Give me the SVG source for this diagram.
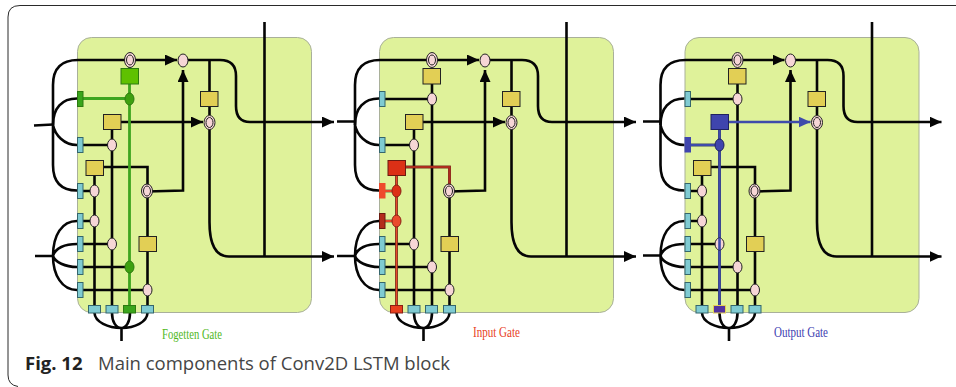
<svg xmlns="http://www.w3.org/2000/svg" width="956" height="387" viewBox="0 0 956 387">
<style>
.bg{fill:#dff29a;stroke:#a9b09a;stroke-width:1}
.w,.g,.r,.rd,.b{fill:none;stroke-width:2.6}
.w{stroke:#050505}
.g{stroke:#3ea51f;stroke-width:2.8}
.r{stroke:#e8492a;stroke-width:2}
.rd{stroke:#ad2c1e}
.b{stroke:#3f4bab}
.y{fill:#e2cf55;stroke:#222;stroke-width:1}
.c{fill:#7fcbd2;stroke:#35666c;stroke-width:1}
.p{fill:#f6d6d6;stroke:#222;stroke-width:1}
.lbl{font-family:"Liberation Serif",serif;font-size:15px}
.cap{font-family:"Open Sans",sans-serif;font-size:18.500px;fill:#454545}
</style>
<defs>
<marker id="ak" markerUnits="userSpaceOnUse" markerWidth="12" markerHeight="11" viewBox="0 0 12 11" refX="12" refY="5.500" orient="auto"><path d="M0 0L12 5.500L0 11z" fill="#050505"/></marker>
<marker id="ab" markerUnits="userSpaceOnUse" markerWidth="12" markerHeight="11" viewBox="0 0 12 11" refX="12" refY="5.500" orient="auto"><path d="M0 0L12 5.500L0 11z" fill="#3f4bab"/></marker>
<g id="wires">
<path class="w" d="M53 125V85Q53 60 78 60H177" marker-end="url(#ak)"/>
<path class="w" d="M183 60H220Q236 60 236 76V106Q236 122 250 122H334" marker-end="url(#ak)"/>
<path class="w" d="M209.500 129V222Q209.500 256.500 229 256.500H334" marker-end="url(#ak)"/>
<path class="w" d="M147 191.500L183 190.500V70" marker-end="url(#ak)"/>
<path class="w" d="M209.500 60V115M264.500 22V256M53 125C53 108 62 98.500 77 98.500M53 125C55 135 64 145 77 145M53 125V165Q53 190.500 77 190.500M80 145H112M80 191H95M80 221H95M80 244H112M80 267H130M80 290H147M94.500 175V305M112 129V305M147.500 197V305M103 167H147.500V185M53 256C53 235 62 221 77 221M53 256C55 248 65 244 77 244M53 256C55 262 65 267 77 267M53 256C53 275 62 290 77 290M94.500 313C95 322 108 328 121.500 328C135 328 147 322 147.500 313M112 313C112 322 116 328 121.500 328C126 328 130 322 130 313M121.500 328V341"/>
</g>
</defs>

<path d="M18 386.500Q8 385 8 375V17Q8 5.500 20 5.500H956" fill="none" stroke="#2a2a2a" stroke-width="1"/>
<rect class="bg" x="77.500" y="37.500" width="234" height="275" rx="14"/>
<rect class="bg" x="379.500" y="37.500" width="234" height="275" rx="14"/>
<rect class="bg" x="685" y="37.500" width="234" height="275" rx="14"/>

<g id="connectors">
<g id="p1-wires">
<use href="#wires"/>
<path class="w" d="M34 125.500L53 124.500M35 256H53"/>
<path class="w" d="M121 122H203" marker-end="url(#ak)"/>
<path class="g" d="M80 98.500H130M129.500 66V305"/>
</g>
<g id="p2-wires" transform="translate(302 0)">
<use href="#wires"/>
<path class="w" d="M35 121.500H53M35 256H53M80 99H130M130 84V305"/>
<path class="w" d="M121 122H203" marker-end="url(#ak)"/>
<path class="rd" d="M103 167H147.500V185"/>
<path class="r" d="M94.500 175V305M80 191H95M80 221H95"/>
</g>
<g id="p3-wires" transform="translate(607.500 0)">
<use href="#wires"/>
<path class="w" d="M35.500 121.500H53M35.500 255.500H53M80 99H130M130 84V305"/>
<path class="b" d="M121 122H203" marker-end="url(#ab)"/>
<path class="b" d="M80 145H112M112 129V305"/>
</g>
</g>

<g id="panel1-nodes">
<g id="p1-top"><ellipse class="p" cx="130" cy="60" rx="5.500" ry="7.500"/><ellipse class="p" cx="130" cy="60" rx="3.500" ry="5"/></g>
<g id="p1-sum"><ellipse class="p" cx="183" cy="60.500" rx="5" ry="6.500"/></g>
<g id="p1-right"><ellipse class="p" cx="209.500" cy="122.500" rx="5.500" ry="7"/><ellipse class="p" cx="209.500" cy="122.500" rx="3.500" ry="5"/></g>
<g id="p1-mid"><ellipse class="p" cx="147" cy="191" rx="5.500" ry="7"/><ellipse class="p" cx="147" cy="191" rx="3.500" ry="5"/></g>
<g id="p1-y1"><rect x="121" y="68.500" width="17.500" height="15.500" fill="#5fc100" stroke="#2d7a10"/></g>
<g id="p1-y2"><rect class="y" x="200.500" y="91.500" width="17.500" height="15"/></g>
<g id="p1-y3"><rect class="y" x="103.500" y="114.500" width="17.500" height="15"/></g>
<g id="p1-y4"><rect class="y" x="86" y="160.500" width="17.500" height="15"/></g>
<g id="p1-y5"><rect class="y" x="139" y="236.500" width="17.500" height="15"/></g>
<g id="p1-l1"><rect x="77.500" y="91.500" width="5.500" height="15" fill="#3aa51c" stroke="#2d7a10"/></g>
<g id="p1-l2"><rect class="c" x="77.500" y="137.500" width="5.500" height="15"/></g>
<g id="p1-l3"><rect class="c" x="77.500" y="183.500" width="5.500" height="15"/></g>
<g id="p1-l4"><rect class="c" x="77.500" y="213.500" width="5.500" height="15"/></g>
<g id="p1-l5"><rect class="c" x="77.500" y="236.500" width="5.500" height="15"/></g>
<g id="p1-l6"><rect class="c" x="77.500" y="259.500" width="5.500" height="15"/></g>
<g id="p1-l7"><rect class="c" x="77.500" y="282.500" width="5.500" height="15"/></g>
<g id="p1-n1"><ellipse cx="129.500" cy="99" rx="4.500" ry="6" fill="#3ea010" stroke="#2d7a10"/></g>
<g id="p1-n2"><ellipse class="p" cx="112" cy="145" rx="4.500" ry="6"/></g>
<g id="p1-n3"><ellipse class="p" cx="94.500" cy="191" rx="4.500" ry="6"/></g>
<g id="p1-n4"><ellipse class="p" cx="94.500" cy="221" rx="4.500" ry="6"/></g>
<g id="p1-n5"><ellipse class="p" cx="112" cy="244" rx="4.500" ry="6"/></g>
<g id="p1-n6"><ellipse cx="129.500" cy="267" rx="4.500" ry="6" fill="#3ea010" stroke="#2d7a10"/></g>
<g id="p1-n7"><ellipse class="p" cx="147.500" cy="290" rx="4.500" ry="6"/></g>
<g id="p1-b1"><rect class="c" x="88.500" y="305.500" width="12" height="7.500"/></g>
<g id="p1-b2"><rect class="c" x="106" y="305.500" width="12" height="7.500"/></g>
<g id="p1-b3"><rect x="123.500" y="305.500" width="12" height="7.500" fill="#3aa51c" stroke="#2d7a10"/></g>
<g id="p1-b4"><rect class="c" x="141.500" y="305.500" width="12" height="7.500"/></g>
</g>

<g id="panel2-nodes" transform="translate(302 0)">
<g id="p2-top"><ellipse class="p" cx="130" cy="60" rx="5.500" ry="7.500"/><ellipse class="p" cx="130" cy="60" rx="3.500" ry="5"/></g>
<g id="p2-sum"><ellipse class="p" cx="183" cy="60.500" rx="5" ry="6.500"/></g>
<g id="p2-right"><ellipse class="p" cx="209.500" cy="122.500" rx="5.500" ry="7"/><ellipse class="p" cx="209.500" cy="122.500" rx="3.500" ry="5"/></g>
<g id="p2-mid"><ellipse class="p" cx="147" cy="191" rx="5.500" ry="7"/><ellipse class="p" cx="147" cy="191" rx="3.500" ry="5"/></g>
<g id="p2-y1"><rect class="y" x="121" y="68.500" width="17.500" height="15.500"/></g>
<g id="p2-y2"><rect class="y" x="200.500" y="91.500" width="17.500" height="15"/></g>
<g id="p2-y3"><rect class="y" x="103.500" y="114.500" width="17.500" height="15"/></g>
<g id="p2-y4"><rect x="86" y="160.500" width="17.500" height="15" fill="#dc3016" stroke="#6b1a10"/></g>
<g id="p2-y5"><rect class="y" x="139" y="236.500" width="17.500" height="15"/></g>
<g id="p2-l1"><rect class="c" x="77.500" y="91.500" width="5.500" height="15"/></g>
<g id="p2-l2"><rect class="c" x="77.500" y="137.500" width="5.500" height="15"/></g>
<g id="p2-l3"><rect x="77" y="183" width="6.500" height="15.500" fill="#ee4a2c"/></g>
<g id="p2-l4"><rect x="77.500" y="213.500" width="5.500" height="15" fill="#b32c1c" stroke="#6b1a10"/></g>
<g id="p2-l5"><rect class="c" x="77.500" y="236.500" width="5.500" height="15"/></g>
<g id="p2-l6"><rect class="c" x="77.500" y="259.500" width="5.500" height="15"/></g>
<g id="p2-l7"><rect class="c" x="77.500" y="282.500" width="5.500" height="15"/></g>
<g id="p2-n1"><ellipse class="p" cx="130" cy="99" rx="4.500" ry="6"/></g>
<g id="p2-n2"><ellipse class="p" cx="112" cy="145" rx="4.500" ry="6"/></g>
<g id="p2-n3"><ellipse cx="94.500" cy="191" rx="4.500" ry="6" fill="#dc3016" stroke="#8a2014"/></g>
<g id="p2-n4"><ellipse cx="94.500" cy="221" rx="4.500" ry="6" fill="#ea4a2c" stroke="#8a2014"/></g>
<g id="p2-n5"><ellipse class="p" cx="112" cy="244" rx="4.500" ry="6"/></g>
<g id="p2-n6"><ellipse class="p" cx="130" cy="267" rx="4.500" ry="6"/></g>
<g id="p2-n7"><ellipse class="p" cx="147.500" cy="290" rx="4.500" ry="6"/></g>
<g id="p2-b1"><rect x="88.500" y="305.500" width="12" height="7.500" fill="#e8401e" stroke="#8a2014"/></g>
<g id="p2-b2"><rect class="c" x="106" y="305.500" width="12" height="7.500"/></g>
<g id="p2-b3"><rect class="c" x="123.500" y="305.500" width="12" height="7.500"/></g>
<g id="p2-b4"><rect class="c" x="141.500" y="305.500" width="12" height="7.500"/></g>
</g>

<g id="panel3-nodes" transform="translate(607.500 0)">
<g id="p3-top"><ellipse class="p" cx="130" cy="60" rx="5.500" ry="7.500"/><ellipse class="p" cx="130" cy="60" rx="3.500" ry="5"/></g>
<g id="p3-sum"><ellipse class="p" cx="183" cy="60.500" rx="5" ry="6.500"/></g>
<g id="p3-right"><ellipse class="p" cx="209.500" cy="122.500" rx="5.500" ry="7"/><ellipse class="p" cx="209.500" cy="122.500" rx="3.500" ry="5"/></g>
<g id="p3-mid"><ellipse class="p" cx="147" cy="191" rx="5.500" ry="7"/><ellipse class="p" cx="147" cy="191" rx="3.500" ry="5"/></g>
<g id="p3-y1"><rect class="y" x="121" y="68.500" width="17.500" height="15.500"/></g>
<g id="p3-y2"><rect class="y" x="200.500" y="91.500" width="17.500" height="15"/></g>
<g id="p3-y3"><rect x="103.500" y="114.500" width="17.500" height="15" fill="#3f45ad" stroke="#1f2260"/></g>
<g id="p3-y4"><rect class="y" x="86" y="160.500" width="17.500" height="15"/></g>
<g id="p3-y5"><rect class="y" x="139" y="236.500" width="17.500" height="15"/></g>
<g id="p3-l1"><rect class="c" x="77.500" y="91.500" width="5.500" height="15"/></g>
<g id="p3-l2"><rect x="77" y="137" width="6.500" height="15.500" fill="#3f45ad"/></g>
<g id="p3-l3"><rect class="c" x="77.500" y="183.500" width="5.500" height="15"/></g>
<g id="p3-l4"><rect class="c" x="77.500" y="213.500" width="5.500" height="15"/></g>
<g id="p3-l5"><rect class="c" x="77.500" y="236.500" width="5.500" height="15"/></g>
<g id="p3-l6"><rect class="c" x="77.500" y="259.500" width="5.500" height="15"/></g>
<g id="p3-l7"><rect class="c" x="77.500" y="282.500" width="5.500" height="15"/></g>
<g id="p3-n1"><ellipse class="p" cx="130" cy="99" rx="4.500" ry="6"/></g>
<g id="p3-n2"><ellipse cx="112" cy="145" rx="4.500" ry="6" fill="#3f45ad" stroke="#1f2260"/></g>
<g id="p3-n3"><ellipse class="p" cx="94.500" cy="191" rx="4.500" ry="6"/></g>
<g id="p3-n4"><ellipse class="p" cx="94.500" cy="221" rx="4.500" ry="6"/></g>
<g id="p3-n5"><ellipse class="p" cx="112" cy="244" rx="4.500" ry="6"/><path class="b" d="M112 238V250"/></g>
<g id="p3-n6"><ellipse class="p" cx="130" cy="267" rx="4.500" ry="6"/></g>
<g id="p3-n7"><ellipse class="p" cx="147.500" cy="290" rx="4.500" ry="6"/></g>
<g id="p3-b1"><rect class="c" x="88.500" y="305.500" width="12" height="7.500"/></g>
<g id="p3-b2"><rect x="106" y="305.500" width="12" height="7.500" fill="#5233a0" stroke="#e2cf55"/></g>
<g id="p3-b3"><rect class="c" x="123.500" y="305.500" width="12" height="7.500"/></g>
<g id="p3-b4"><rect class="c" x="141.500" y="305.500" width="12" height="7.500"/></g>
</g>

<text class="lbl" x="162" y="339" fill="#4fb81c" textLength="60" lengthAdjust="spacingAndGlyphs">Fogetten Gate</text>
<text class="lbl" x="473" y="337" fill="#e8401e" textLength="47" lengthAdjust="spacingAndGlyphs">Input Gate</text>
<text class="lbl" x="774" y="337" fill="#4040b0" textLength="54" lengthAdjust="spacingAndGlyphs">Output Gate</text>
<text class="cap" x="25" y="370"><tspan font-weight="bold" fill="#222">Fig. 12</tspan></text>
<text class="cap" x="98" y="370">Main components of Conv2D LSTM block</text>
</svg>
